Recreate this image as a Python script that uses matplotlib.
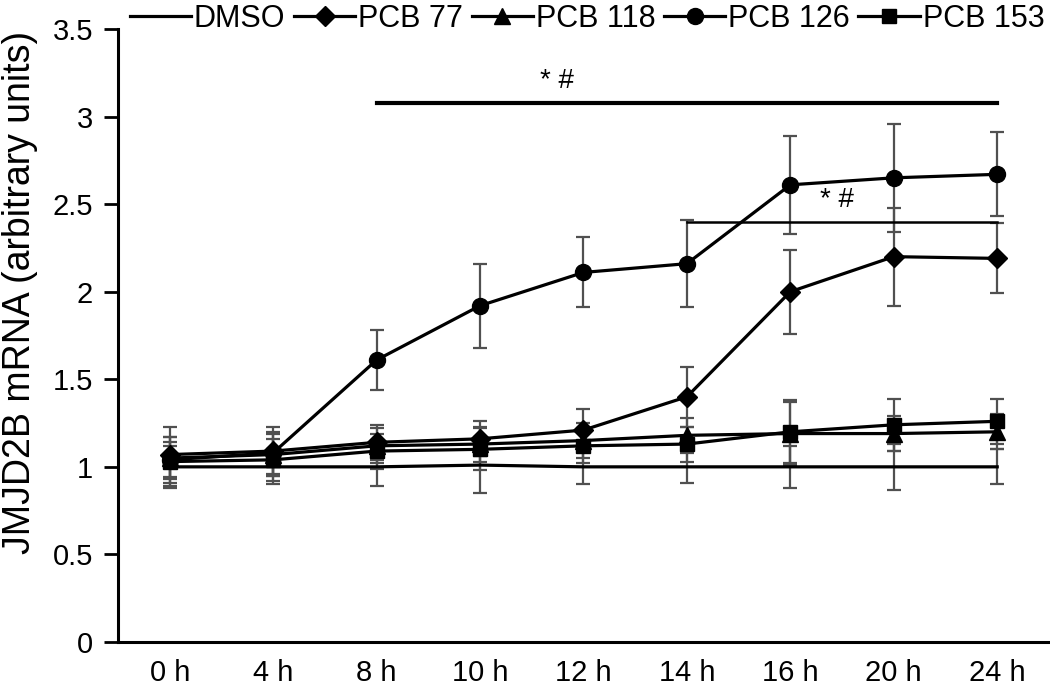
import matplotlib
matplotlib.use("Agg")
import matplotlib.pyplot as plt

plt.rcParams["font.family"] = ["Liberation Sans", "DejaVu Sans"]

times = ["0 h", "4 h", "8 h", "10 h", "12 h", "14 h", "16 h", "20 h", "24 h"]

dmso = [1.00, 1.00, 1.00, 1.01, 1.00, 1.00, 1.00, 1.00, 1.00]
dmso_err = [0.12, 0.10, 0.11, 0.16, 0.10, 0.09, 0.12, 0.13, 0.10]

pcb77 = [1.07, 1.09, 1.14, 1.16, 1.21, 1.40, 2.00, 2.20, 2.19]
pcb77_err = [0.16, 0.14, 0.10, 0.10, 0.12, 0.17, 0.24, 0.28, 0.20]

pcb118 = [1.05, 1.07, 1.12, 1.13, 1.15, 1.18, 1.19, 1.19, 1.20]
pcb118_err = [0.12, 0.12, 0.10, 0.10, 0.10, 0.10, 0.18, 0.10, 0.10]

pcb126 = [1.04, 1.08, 1.61, 1.92, 2.11, 2.16, 2.61, 2.65, 2.67]
pcb126_err = [0.10, 0.12, 0.17, 0.24, 0.20, 0.25, 0.28, 0.31, 0.24]

pcb153 = [1.03, 1.04, 1.09, 1.10, 1.12, 1.13, 1.20, 1.24, 1.26]
pcb153_err = [0.14, 0.12, 0.10, 0.12, 0.10, 0.10, 0.18, 0.15, 0.13]

series = [
    ("DMSO", dmso, dmso_err, None, 0),
    ("PCB 77", pcb77, pcb77_err, "D", 10),
    ("PCB 118", pcb118, pcb118_err, "^", 11.5),
    ("PCB 126", pcb126, pcb126_err, "o", 11.5),
    ("PCB 153", pcb153, pcb153_err, "s", 10.5),
]

fig = plt.figure(figsize=(10.5, 6.89), dpi=100)
ax = fig.add_axes([0.1124, 0.0682, 0.8866, 0.8898])
x = list(range(len(times)))

for name, vals, err, marker, ms in series:
    ax.errorbar(x, vals, yerr=err, fmt="none", ecolor="#505050",
                elinewidth=1.6, capsize=4.8, capthick=1.6, zorder=2)
for name, vals, err, marker, ms in series:
    ax.plot(x, vals, color="black", linewidth=2.3, marker=marker,
            markersize=ms, markerfacecolor="black", markeredgecolor="black",
            label=name, zorder=3)

# significance bars
ax.plot([2, 8], [3.08, 3.08], color="black", linewidth=3.0, zorder=4)
ax.text(3.74, 3.13, "* #", fontsize=20, ha="center", va="bottom")
ax.plot([5, 8], [2.40, 2.40], color="black", linewidth=1.8, zorder=4)
ax.text(6.45, 2.45, "* #", fontsize=20, ha="center", va="bottom")

ax.set_xlim(-0.5, 8.5)
ax.set_ylim(0, 3.5)
ax.set_xticks(x)
ax.set_xticklabels(times)
ax.set_yticks([0, 0.5, 1, 1.5, 2, 2.5, 3, 3.5])
ax.set_yticklabels(["0", "0.5", "1", "1.5", "2", "2.5", "3", "3.5"])
ax.tick_params(axis="x", length=0, labelsize=21, pad=12)
ax.tick_params(axis="y", length=10, width=2, direction="out", labelsize=21, pad=8)
for side in ("top", "right"):
    ax.spines[side].set_visible(False)
for side in ("left", "bottom"):
    ax.spines[side].set_linewidth(2.2)
ax.set_ylabel("JMJD2B mRNA (arbitrary units)", fontsize=27, va="center")
ax.yaxis.set_label_coords(-0.105, 0.57)

fig.legend(loc="upper left", bbox_to_anchor=(0.112, 1.012), ncol=5,
           frameon=False, fontsize=22, handlelength=2.0, handletextpad=0.1,
           columnspacing=0.28, borderaxespad=0)

fig.savefig("out.png", dpi=100)
